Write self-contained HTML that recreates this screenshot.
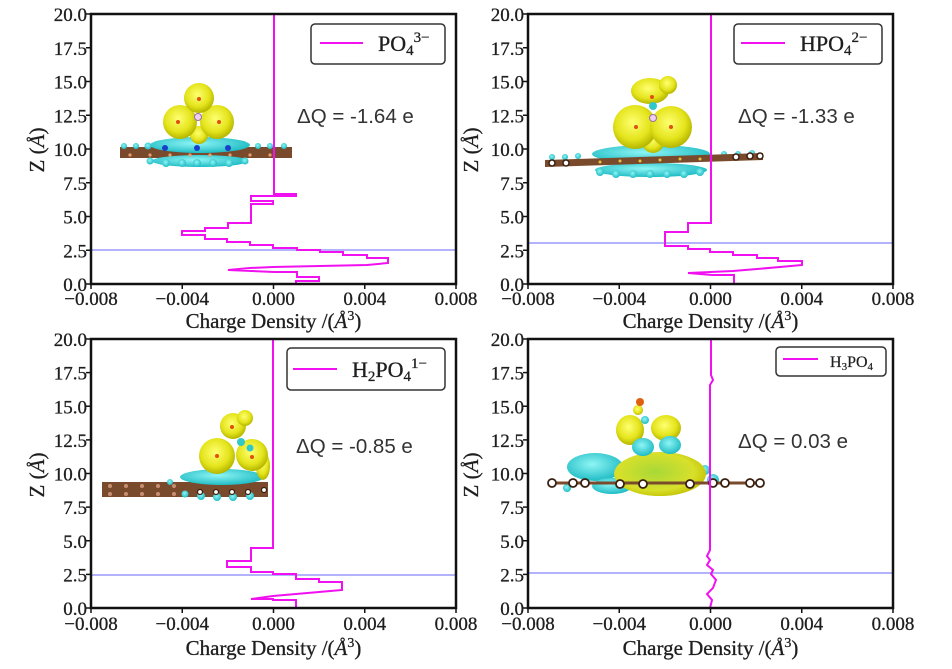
<!DOCTYPE html>
<html><head><meta charset="utf-8"><style>
html,body{margin:0;padding:0;background:#fff;}
svg{display:block;}
.tk{font-family:"Liberation Serif",serif;font-size:19px;fill:#1e1e1e;stroke:#1e1e1e;stroke-width:0.3;}
.lab{font-family:"Liberation Serif",serif;font-size:21px;fill:#1e1e1e;stroke:#1e1e1e;stroke-width:0.3;}
.dq{font-family:"Liberation Sans",sans-serif;font-size:20.5px;fill:#333;}
.lg{font-family:"Liberation Serif",serif;font-size:22px;fill:#1e1e1e;stroke:#1e1e1e;stroke-width:0.3;}
</style></head><body>
<svg width="952" height="669" viewBox="0 0 952 669" xmlns="http://www.w3.org/2000/svg">
<defs>
<radialGradient id="yg" cx="45%" cy="40%" r="60%"><stop offset="0%" stop-color="#ffff70"/><stop offset="65%" stop-color="#e4e41c"/><stop offset="100%" stop-color="#b5b500"/></radialGradient>
<radialGradient id="cg" cx="45%" cy="40%" r="60%"><stop offset="0%" stop-color="#8ff5f5"/><stop offset="100%" stop-color="#1fbcc4"/></radialGradient>
<radialGradient id="gg" cx="45%" cy="45%" r="60%"><stop offset="0%" stop-color="#a8d838"/><stop offset="70%" stop-color="#d8e02a"/><stop offset="100%" stop-color="#c0c000"/></radialGradient>
</defs>
<rect width="952" height="669" fill="#fff"/>

<!-- ============ PANEL A (top-left) ============ -->
<g>
<rect x="120" y="147" width="172" height="11" fill="#7a4a2c"/>
<g fill="url(#cg)">
<ellipse cx="200" cy="145" rx="50" ry="8"/>
<ellipse cx="200" cy="161" rx="48" ry="6"/>
<circle cx="124" cy="146" r="3"/><circle cx="136" cy="146" r="3"/><circle cx="148" cy="146" r="3.5"/><circle cx="258" cy="146" r="3"/><circle cx="270" cy="146" r="3"/><circle cx="284" cy="146" r="3"/>
<circle cx="150" cy="161" r="3.5"/><circle cx="166" cy="163" r="4"/><circle cx="182" cy="163" r="4"/><circle cx="197" cy="163" r="4"/><circle cx="213" cy="163" r="4"/><circle cx="229" cy="163" r="4"/><circle cx="245" cy="161" r="3.5"/>
</g>
<g fill="#1840c8"><circle cx="165" cy="148" r="3"/><circle cx="197" cy="148" r="3"/><circle cx="228" cy="148" r="3"/></g>
<g fill="#e8a070"><circle cx="130" cy="155" r="1.6"/><circle cx="150" cy="155" r="1.6"/><circle cx="170" cy="155" r="1.6"/><circle cx="190" cy="155" r="1.6"/><circle cx="210" cy="155" r="1.6"/><circle cx="230" cy="155" r="1.6"/><circle cx="250" cy="155" r="1.6"/><circle cx="270" cy="155" r="1.6"/></g>
<g fill="url(#yg)">
<circle cx="199" cy="135" r="9"/>
<circle cx="180" cy="122" r="17"/>
<circle cx="217" cy="122" r="17"/>
<circle cx="199" cy="98" r="15"/>
</g>
<g fill="#e05010"><circle cx="199" cy="99" r="2"/><circle cx="178" cy="122" r="2"/><circle cx="219" cy="122" r="2"/></g>
<circle cx="198" cy="117" r="3.5" fill="#f0d0f0" stroke="#9a70a0" stroke-width="1"/>

<line x1="91" y1="250" x2="456" y2="250" stroke="#9898ff" stroke-width="1.5"/>
<path d="M274,14 V194 H296 V196 H251 V201 H273 V204 H251 V223 H228 V228 H205 V231 H182 V235 H205 V239 H227 V242 H250 V245 H273 V248 H297 V250 H320 V252 H343 V255 H367 V258 H388 V263 L367,265 L320,266 L273,267 L250,268 L228,270 L274,272 H297 V277 H319 V281 H296 V284" fill="none" stroke="#f010f0" stroke-width="2"/>
<rect x="91" y="14" width="365" height="270" fill="none" stroke="#111" stroke-width="2.5"/>
<g stroke="#111" stroke-width="1.5">
<line x1="86" y1="14" x2="91" y2="14"/><line x1="86" y1="47.75" x2="91" y2="47.75"/><line x1="86" y1="81.5" x2="91" y2="81.5"/><line x1="86" y1="115.25" x2="91" y2="115.25"/><line x1="86" y1="149" x2="91" y2="149"/><line x1="86" y1="182.75" x2="91" y2="182.75"/><line x1="86" y1="216.5" x2="91" y2="216.5"/><line x1="86" y1="250.25" x2="91" y2="250.25"/><line x1="86" y1="284" x2="91" y2="284"/>
<line x1="91" y1="284" x2="91" y2="289"/><line x1="182.25" y1="284" x2="182.25" y2="289"/><line x1="273.5" y1="284" x2="273.5" y2="289"/><line x1="364.75" y1="284" x2="364.75" y2="289"/><line x1="456" y1="284" x2="456" y2="289"/>
</g>
<g class="tk" text-anchor="end">
<text x="87" y="21">20.0</text><text x="87" y="54.75">17.5</text><text x="87" y="88.5">15.0</text><text x="87" y="122.25">12.5</text><text x="87" y="156">10.0</text><text x="87" y="189.75">7.5</text><text x="87" y="223.5">5.0</text><text x="87" y="257.25">2.5</text><text x="87" y="291">0.0</text>
</g>
<g class="tk" text-anchor="middle">
<text x="91" y="305">−0.008</text><text x="182.25" y="305">−0.004</text><text x="273.5" y="305">0.000</text><text x="364.75" y="305">0.004</text><text x="456" y="305">0.008</text>
</g>
<text class="lab" x="273.5" y="328" text-anchor="middle">Charge Density /(<tspan font-style="italic">Å</tspan><tspan font-size="14" dy="-8">3</tspan><tspan dy="8">)</tspan></text>
<text class="lab" transform="translate(44,150) rotate(-90)" text-anchor="middle">Z (<tspan font-style="italic">Å</tspan>)</text>
<rect x="311" y="24" width="134" height="40" rx="4" fill="#fff" stroke="#333" stroke-width="1.5"/>
<line x1="320" y1="43" x2="363" y2="43" stroke="#f010f0" stroke-width="2"/>
<text class="lg" x="378" y="51">PO<tspan font-size="15" dy="4">4</tspan><tspan font-size="15" dy="-13">3−</tspan></text>
<text class="dq" x="297" y="123">ΔQ = -1.64 e</text>
</g>

<!-- ============ PANEL B (top-right) ============ -->
<g>
<g fill="url(#cg)">
<ellipse cx="651" cy="154" rx="59" ry="9"/>
<ellipse cx="651" cy="170" rx="56" ry="7"/>
<circle cx="600" cy="172" r="4"/><circle cx="616" cy="174" r="4"/><circle cx="633" cy="174" r="4"/><circle cx="650" cy="174" r="4"/><circle cx="667" cy="174" r="4"/><circle cx="684" cy="174" r="4"/><circle cx="700" cy="172" r="4"/>
<circle cx="552" cy="157" r="3"/><circle cx="565" cy="157" r="3"/><circle cx="578" cy="156" r="3"/><circle cx="724" cy="154" r="3"/><circle cx="738" cy="154" r="3"/><circle cx="752" cy="153" r="3"/>
</g>
<polygon points="545,160 763,153 763,160 545,167" fill="#7a4a2c"/>
<g fill="#fff" stroke="#3a2010" stroke-width="1.5"><circle cx="552" cy="163" r="3"/><circle cx="566" cy="163" r="3"/><circle cx="736" cy="157" r="3"/><circle cx="750" cy="156" r="3"/><circle cx="760" cy="156" r="3"/></g>
<g fill="#e8c040"><circle cx="600" cy="162" r="1.5"/><circle cx="620" cy="161" r="1.5"/><circle cx="640" cy="161" r="1.5"/><circle cx="660" cy="160" r="1.5"/><circle cx="680" cy="159" r="1.5"/><circle cx="700" cy="159" r="1.5"/></g>
<g fill="url(#yg)">
<circle cx="653" cy="142" r="11"/>
<circle cx="635" cy="127" r="22"/>
<circle cx="671" cy="127" r="21"/>
<ellipse cx="650" cy="91" rx="19" ry="13"/>
<circle cx="668" cy="85" r="9"/>
</g>
<circle cx="653" cy="106" r="4" fill="#30c8c8"/>
<g fill="#e05010"><circle cx="652" cy="97" r="2"/><circle cx="636" cy="127" r="2"/><circle cx="671" cy="127" r="2"/></g>
<circle cx="653" cy="118" r="3.5" fill="#f0d0f0" stroke="#9a70a0" stroke-width="1"/>

<line x1="528" y1="243" x2="893" y2="243" stroke="#9898ff" stroke-width="1.5"/>
<path d="M711,14 V223 H688 V232 H665 V246 H688 V249 H710 V252 H733 V255 H757 V258 H778 V261 H802 V265 L780,267 L757,269 L733,271 L688,273 L712,275 H734 V284" fill="none" stroke="#f010f0" stroke-width="2"/>
<rect x="528" y="14" width="365" height="270" fill="none" stroke="#111" stroke-width="2.5"/>
<g stroke="#111" stroke-width="1.5">
<line x1="523" y1="14" x2="528" y2="14"/><line x1="523" y1="47.75" x2="528" y2="47.75"/><line x1="523" y1="81.5" x2="528" y2="81.5"/><line x1="523" y1="115.25" x2="528" y2="115.25"/><line x1="523" y1="149" x2="528" y2="149"/><line x1="523" y1="182.75" x2="528" y2="182.75"/><line x1="523" y1="216.5" x2="528" y2="216.5"/><line x1="523" y1="250.25" x2="528" y2="250.25"/><line x1="523" y1="284" x2="528" y2="284"/>
<line x1="528" y1="284" x2="528" y2="289"/><line x1="619.25" y1="284" x2="619.25" y2="289"/><line x1="710.5" y1="284" x2="710.5" y2="289"/><line x1="801.75" y1="284" x2="801.75" y2="289"/><line x1="893" y1="284" x2="893" y2="289"/>
</g>
<g class="tk" text-anchor="end">
<text x="524" y="21">20.0</text><text x="524" y="54.75">17.5</text><text x="524" y="88.5">15.0</text><text x="524" y="122.25">12.5</text><text x="524" y="156">10.0</text><text x="524" y="189.75">7.5</text><text x="524" y="223.5">5.0</text><text x="524" y="257.25">2.5</text><text x="524" y="291">0.0</text>
</g>
<g class="tk" text-anchor="middle">
<text x="528" y="305">−0.008</text><text x="619.25" y="305">−0.004</text><text x="710.5" y="305">0.000</text><text x="801.75" y="305">0.004</text><text x="893" y="305">0.008</text>
</g>
<text class="lab" x="710.5" y="328" text-anchor="middle">Charge Density /(<tspan font-style="italic">Å</tspan><tspan font-size="14" dy="-8">3</tspan><tspan dy="8">)</tspan></text>
<text class="lab" transform="translate(478,150) rotate(-90)" text-anchor="middle">Z (<tspan font-style="italic">Å</tspan>)</text>
<rect x="734" y="24" width="148" height="40" rx="4" fill="#fff" stroke="#333" stroke-width="1.5"/>
<line x1="741" y1="43" x2="785" y2="43" stroke="#f010f0" stroke-width="2"/>
<text class="lg" x="800" y="51">HPO<tspan font-size="15" dy="4">4</tspan><tspan font-size="15" dy="-13">2−</tspan></text>
<text class="dq" x="738" y="123">ΔQ = -1.33 e</text>
</g>

<!-- ============ PANEL C (bottom-left) ============ -->
<g>
<rect x="102" y="482" width="166" height="15" fill="#7a4a2c"/>
<g fill="#c89070"><circle cx="110" cy="486" r="2"/><circle cx="126" cy="486" r="2"/><circle cx="142" cy="486" r="2"/><circle cx="158" cy="486" r="2"/><circle cx="174" cy="486" r="2"/><circle cx="110" cy="494" r="2"/><circle cx="126" cy="494" r="2"/><circle cx="142" cy="494" r="2"/><circle cx="158" cy="494" r="2"/><circle cx="174" cy="494" r="2"/></g>
<g fill="url(#cg)">
<ellipse cx="222" cy="477" rx="42" ry="8"/>
<circle cx="201" cy="496" r="4"/><circle cx="217" cy="497" r="4"/><circle cx="233" cy="497" r="4"/><circle cx="250" cy="496" r="4"/><circle cx="185" cy="494" r="3.5"/>
<circle cx="170" cy="482" r="3"/>
</g>
<g fill="#fff" stroke="#3a2010" stroke-width="1.2"><circle cx="200" cy="492" r="2.5"/><circle cx="216" cy="492" r="2.5"/><circle cx="232" cy="492" r="2.5"/><circle cx="248" cy="492" r="2.5"/><circle cx="264" cy="490" r="2.5"/></g>
<g fill="url(#yg)">
<ellipse cx="263" cy="466" rx="7" ry="14"/>
<circle cx="217" cy="456" r="18"/>
<circle cx="252" cy="455" r="16"/>
<circle cx="233" cy="426" r="13"/>
<circle cx="245" cy="418" r="8"/>
</g>
<circle cx="241" cy="442" r="4" fill="#30c8c8"/><circle cx="250" cy="448" r="3.5" fill="#30c8c8"/>
<g fill="#e05010"><circle cx="232" cy="427" r="2"/><circle cx="217" cy="456" r="2"/><circle cx="252" cy="457" r="2"/></g>

<line x1="91" y1="575" x2="456" y2="575" stroke="#9898ff" stroke-width="1.5"/>
<path d="M273,339 V548 H251 V561 H227 V567 H251 V572 H273 V574 H296 V579 H319 V582 H342 V590 L319,592 L296,594 L273,596 L251,599 H273 V600 H296 V608" fill="none" stroke="#f010f0" stroke-width="2"/>
<rect x="91" y="339" width="365" height="269" fill="none" stroke="#111" stroke-width="2.5"/>
<g stroke="#111" stroke-width="1.5">
<line x1="86" y1="339" x2="91" y2="339"/><line x1="86" y1="372.6" x2="91" y2="372.6"/><line x1="86" y1="406.25" x2="91" y2="406.25"/><line x1="86" y1="439.9" x2="91" y2="439.9"/><line x1="86" y1="473.5" x2="91" y2="473.5"/><line x1="86" y1="507.1" x2="91" y2="507.1"/><line x1="86" y1="540.75" x2="91" y2="540.75"/><line x1="86" y1="574.4" x2="91" y2="574.4"/><line x1="86" y1="608" x2="91" y2="608"/>
<line x1="91" y1="608" x2="91" y2="613"/><line x1="182.25" y1="608" x2="182.25" y2="613"/><line x1="273.5" y1="608" x2="273.5" y2="613"/><line x1="364.75" y1="608" x2="364.75" y2="613"/><line x1="456" y1="608" x2="456" y2="613"/>
</g>
<g class="tk" text-anchor="end">
<text x="87" y="346">20.0</text><text x="87" y="379.6">17.5</text><text x="87" y="413.25">15.0</text><text x="87" y="446.9">12.5</text><text x="87" y="480.5">10.0</text><text x="87" y="514.1">7.5</text><text x="87" y="547.75">5.0</text><text x="87" y="581.4">2.5</text><text x="87" y="615">0.0</text>
</g>
<g class="tk" text-anchor="middle">
<text x="91" y="630">−0.008</text><text x="182.25" y="630">−0.004</text><text x="273.5" y="630">0.000</text><text x="364.75" y="630">0.004</text><text x="456" y="630">0.008</text>
</g>
<text class="lab" x="273.5" y="655" text-anchor="middle">Charge Density /(<tspan font-style="italic">Å</tspan><tspan font-size="14" dy="-8">3</tspan><tspan dy="8">)</tspan></text>
<text class="lab" transform="translate(44,475) rotate(-90)" text-anchor="middle">Z (<tspan font-style="italic">Å</tspan>)</text>
<rect x="287" y="348" width="158" height="42" rx="4" fill="#fff" stroke="#333" stroke-width="1.5"/>
<line x1="293" y1="369" x2="337" y2="369" stroke="#f010f0" stroke-width="2"/>
<text class="lg" x="352" y="377">H<tspan font-size="15" dy="4">2</tspan><tspan dy="-4">PO</tspan><tspan font-size="15" dy="4">4</tspan><tspan font-size="15" dy="-13">1−</tspan></text>
<text class="dq" x="296" y="453">ΔQ = -0.85 e</text>
</g>

<!-- ============ PANEL D (bottom-right) ============ -->
<g>
<g fill="url(#cg)">
<ellipse cx="595" cy="467" rx="28" ry="14"/>
<ellipse cx="612" cy="486" rx="20" ry="8"/>
<circle cx="567" cy="488" r="4"/><circle cx="713" cy="480" r="6"/><circle cx="705" cy="470" r="5"/>
</g>
<g fill="url(#gg)">
<ellipse cx="660" cy="474" rx="46" ry="22"/>
</g>
<g fill="url(#yg)">
<ellipse cx="630" cy="430" rx="14" ry="15"/>
<ellipse cx="666" cy="428" rx="15" ry="13"/>
<circle cx="638" cy="410" r="5"/>
</g>
<g fill="url(#cg)">
<ellipse cx="643" cy="447" rx="11" ry="9"/>
<ellipse cx="670" cy="445" rx="11" ry="9"/>
<circle cx="645" cy="420" r="4"/>
</g>
<circle cx="640" cy="402" r="4" fill="#e06010"/>
<line x1="548" y1="483" x2="763" y2="483" stroke="#7a4a2c" stroke-width="3"/>
<g fill="#fff" stroke="#3a2010" stroke-width="1.8"><circle cx="552" cy="483" r="4"/><circle cx="573" cy="483" r="4"/><circle cx="585" cy="483" r="4"/><circle cx="620" cy="484" r="4"/><circle cx="643" cy="484" r="4"/><circle cx="690" cy="484" r="4"/><circle cx="713" cy="483" r="4"/><circle cx="725" cy="483" r="4"/><circle cx="750" cy="483" r="4"/><circle cx="760" cy="483" r="4"/></g>

<line x1="528" y1="573" x2="893" y2="573" stroke="#9898ff" stroke-width="1.5"/>
<path d="M711,339 L711,375 L713,380 L710,385 L710,550 L707,556 L710,560 L707,565 L713,570 L711,574 L716,580 L713,588 L707,594 L712,600 L710,608" fill="none" stroke="#f010f0" stroke-width="2"/>
<rect x="528" y="339" width="365" height="269" fill="none" stroke="#111" stroke-width="2.5"/>
<g stroke="#111" stroke-width="1.5">
<line x1="523" y1="339" x2="528" y2="339"/><line x1="523" y1="372.6" x2="528" y2="372.6"/><line x1="523" y1="406.25" x2="528" y2="406.25"/><line x1="523" y1="439.9" x2="528" y2="439.9"/><line x1="523" y1="473.5" x2="528" y2="473.5"/><line x1="523" y1="507.1" x2="528" y2="507.1"/><line x1="523" y1="540.75" x2="528" y2="540.75"/><line x1="523" y1="574.4" x2="528" y2="574.4"/><line x1="523" y1="608" x2="528" y2="608"/>
<line x1="528" y1="608" x2="528" y2="613"/><line x1="619.25" y1="608" x2="619.25" y2="613"/><line x1="710.5" y1="608" x2="710.5" y2="613"/><line x1="801.75" y1="608" x2="801.75" y2="613"/><line x1="893" y1="608" x2="893" y2="613"/>
</g>
<g class="tk" text-anchor="end">
<text x="524" y="346">20.0</text><text x="524" y="379.6">17.5</text><text x="524" y="413.25">15.0</text><text x="524" y="446.9">12.5</text><text x="524" y="480.5">10.0</text><text x="524" y="514.1">7.5</text><text x="524" y="547.75">5.0</text><text x="524" y="581.4">2.5</text><text x="524" y="615">0.0</text>
</g>
<g class="tk" text-anchor="middle">
<text x="528" y="630">−0.008</text><text x="619.25" y="630">−0.004</text><text x="710.5" y="630">0.000</text><text x="801.75" y="630">0.004</text><text x="893" y="630">0.008</text>
</g>
<text class="lab" x="710.5" y="655" text-anchor="middle">Charge Density /(<tspan font-style="italic">Å</tspan><tspan font-size="14" dy="-8">3</tspan><tspan dy="8">)</tspan></text>
<text class="lab" transform="translate(478,475) rotate(-90)" text-anchor="middle">Z (<tspan font-style="italic">Å</tspan>)</text>
<rect x="776" y="347" width="110" height="29" rx="4" fill="#fff" stroke="#333" stroke-width="1.5"/>
<line x1="783" y1="359" x2="818" y2="359" stroke="#f010f0" stroke-width="2"/>
<text x="830" y="367" font-family="Liberation Serif, serif" font-size="16" fill="#1e1e1e" stroke="#1e1e1e" stroke-width="0.2">H<tspan font-size="11" dy="3">3</tspan><tspan dy="-3">PO</tspan><tspan font-size="11" dy="3">4</tspan></text>
<text class="dq" x="738" y="448">ΔQ = 0.03 e</text>
</g>
</svg>
</body></html>
